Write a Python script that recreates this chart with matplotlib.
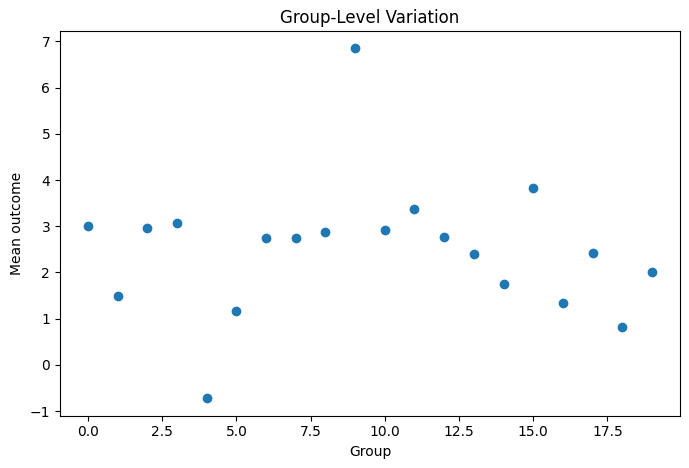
import matplotlib
matplotlib.use("Agg")
import matplotlib.pyplot as plt

groups = list(range(20))
means = [3.00, 1.49, 2.96, 3.06, -0.72, 1.16, 2.74, 2.74, 2.87, 6.85,
         2.91, 3.37, 2.76, 2.39, 1.75, 3.82, 1.34, 2.42, 0.82, 2.01]

fig = plt.figure(figsize=(6.89, 4.68), dpi=100)
ax = fig.add_axes([0.087, 0.112, 0.900, 0.822])
ax.scatter(groups, means, color="#1f77b4")
ax.set_title("Group-Level Variation")
ax.set_xlabel("Group")
ax.set_ylabel("Mean outcome")
fig.savefig("out.png", dpi=100)
